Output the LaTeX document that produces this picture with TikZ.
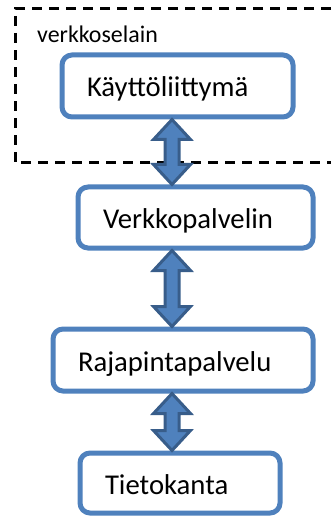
\documentclass[tikz,border=0pt]{standalone}
\usepackage{fontspec}
\setmainfont{Carlito}
\usetikzlibrary{calc}
\definecolor{boxblue}{HTML}{4F81BD}
\definecolor{arrowdark}{HTML}{385D8A}
\newcommand\dblarr[2]{%
  \path (ax |- #1.south) coordinate (t) (ax |- #2.north) coordinate (b);
  \draw[blockarr] (t) -- ($(t)+(18.5,20)$) -- ($(t)+(7,20)$) -- ($(b)+(7,-20)$)
    -- ($(b)+(18.5,-20)$) -- (b) -- ($(b)+(-18.5,-20)$) -- ($(b)+(-7,-20)$)
    -- ($(t)+(-7,20)$) -- ($(t)+(-18.5,20)$) -- cycle;}
\begin{document}
\begin{tikzpicture}[x=1bp,y=-1bp,
  box/.style={draw=boxblue, line width=5bp, rounded corners=10bp, fill=white,
    align=left, inner xsep=25bp, inner ysep=0pt, text height=22bp, text depth=0pt,
    font=\fontsize{28.8}{34}\selectfont, anchor=north west},
  blockarr/.style={fill=boxblue, draw=arrowdark, line width=3bp, line join=miter},
  frame/.style={draw=black, line width=3bp, dash pattern=on 10bp off 7bp}]
\useasboundingbox (0,0) rectangle (331,517);
\coordinate (ax) at (172,0);
\draw[frame] (331,9) -- (15,9) -- (15,163) -- (331,163);
\node[anchor=base west, inner sep=0pt, font=\fontsize{24}{28}\selectfont] (lbl) at (37,43) {verkkoselain};
\node[box, text width=181bp, minimum height=62bp] (b1) at (59.5,52.5) {Käyttöliittymä};
\node[box, text width=185bp, minimum height=61bp] (b2) at (75.5,184.5) {Verkkopalvelin};
\node[box, text width=210bp, minimum height=62bp] (b3) at (50.5,326.5) {Rajapintapalvelu};
\node[box, text width=150bp, minimum height=60bp] (b4) at (77.5,450.5) {Tietokanta};
\dblarr{b1}{b2}
\dblarr{b2}{b3}
\dblarr{b3}{b4}
\end{tikzpicture}
\end{document}
